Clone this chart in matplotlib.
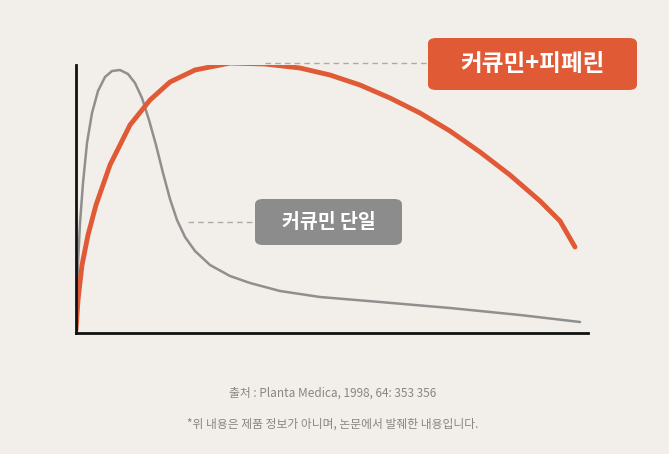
import matplotlib.pyplot as plt
from matplotlib.patches import FancyBboxPatch

plt.rcParams['font.family'] = ['Noto Sans CJK KR', 'DejaVu Sans']

# time (arbitrary units) and blood concentration (arbitrary units)
t_combo = [0, 2, 6, 12, 20, 34, 54, 74, 94, 119, 154, 189, 224, 254, 284, 314, 344, 374, 404, 434, 464, 484, 499]
c_combo = [3, 33, 68, 98, 128, 168, 208, 233, 251, 263, 270, 269, 265, 258, 248, 235, 220, 202, 181, 158, 132, 112, 86]
t_single = [0, 2, 4, 7, 11, 16, 22, 29, 36, 44, 52, 59, 66, 73, 80, 87, 94, 101, 109, 119, 134, 154, 174, 204, 244, 304, 374, 444, 504]
c_single = [3, 70, 110, 150, 190, 220, 242, 256, 262, 263, 259, 250, 235, 213, 188, 160, 134, 113, 96, 82, 68, 57, 50, 42, 36, 31, 25, 18, 11]

label_combo = "커큐민+피페린"
label_single = "커큐민 단일"
source = "출처 : Planta Medica, 1998, 64: 353 356"
note = "*위 내용은 제품 정보가 아니며, 논문에서 발췌한 내용입니다."

bg = '#F2EFEA'
orange = '#E05A35'
gray = '#8C8C8C'

fig = plt.figure(figsize=(6.69, 4.54), dpi=100, facecolor=bg)
ax = fig.add_axes([76/669, 121/454, 512/669, 268/454])
ax.set_facecolor(bg)
ax.plot(t_single, c_single, color='#8F8F8F', lw=1.8, solid_capstyle='round', solid_joinstyle='round')
ax.plot(t_combo, c_combo, color=orange, lw=3.5, solid_capstyle='round', solid_joinstyle='round')
ax.set_xlim(0, 512)
ax.set_ylim(0, 268)
for s in ['top', 'right']:
    ax.spines[s].set_visible(False)
for s in ['left', 'bottom']:
    ax.spines[s].set_linewidth(2)
    ax.spines[s].set_color('#111111')
ax.set_xticks([])
ax.set_yticks([])

# dashed leaders
fig.add_artist(plt.Line2D([265/669, 428/669], [1-63/454, 1-63/454], color='#B0A8A0', lw=1, ls=(0, (4, 3))))
fig.add_artist(plt.Line2D([188/669, 255/669], [1-222/454, 1-222/454], color='#B0A8A0', lw=1, ls=(0, (4, 3))))

def box(x0, y0, x1, y1, color, text, size):
    p = FancyBboxPatch((x0/669, 1-y1/454), (x1-x0)/669, (y1-y0)/454,
                       boxstyle='round,pad=0,rounding_size=0.012', transform=fig.transFigure,
                       facecolor=color, edgecolor='none')
    fig.add_artist(p)
    fig.text((x0+x1)/2/669, 1-(y0+y1)/2/454, text, color='white', fontsize=size,
             fontweight='bold', ha='center', va='center')

box(428, 38, 637, 90, orange, label_combo, 17)
box(255, 199, 402, 245, gray, label_single, 14)

fig.text(333/669, 1-393/454, source, color='#8A8580', fontsize=8.5, ha='center', va='center')
fig.text(333/669, 1-424/454, note, color='#8A8580', fontsize=8.5, ha='center', va='center')

fig.savefig('out.png', dpi=100, facecolor=bg)
